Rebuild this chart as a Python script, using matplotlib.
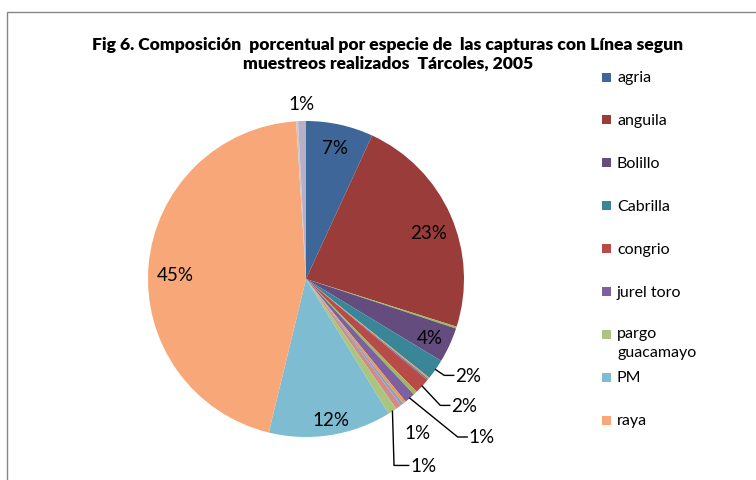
import numpy as np
import matplotlib
matplotlib.use("Agg")
import matplotlib.pyplot as plt
from matplotlib.patches import Rectangle

plt.rcParams['font.family'] = ['Lato', 'DejaVu Sans']

# ---- data (clockwise from 12 o'clock) ----
categories = ["agria", "anguila", "", "Bolillo", "Cabrilla", "", "", "congrio", "",
              "jurel toro", "", "", "", "pargo guacamayo", "PM", "raya", "", ""]
values = [6.9, 23.1, 0.2, 3.6, 2.1, 0.15, 0.15, 1.6, 0.4,
          1.1, 0.3, 0.3, 0.6, 0.9, 12.6, 45.4, 0.2, 0.8]
colors = ["#3E6699", "#9A3C3A", "#9BBB59", "#644C7E", "#398699", "#F79646", "#4F81BD",
          "#B84B48", "#9BBB59", "#7D60A0", "#F79646", "#7EA4D0", "#D28A88", "#ACC57E",
          "#7DBCD1", "#F8A878", "#C8C8C8", "#B9AEC8"]
pct_labels = ["7%", "23%", "", "4%", "2%", "", "", "2%", "", "1%", "", "", "1%", "1%",
              "12%", "45%", "", "1%"]
legend_names = ["agria", "anguila", "Bolillo", "Cabrilla", "congrio", "jurel toro",
                "pargo\nguacamayo", "PM", "raya"]
legend_colors = ["#3E6699", "#9A3C3A", "#644C7E", "#398699", "#B84B48", "#7D60A0",
                 "#ACC57E", "#7DBCD1", "#F8A878"]

W, H = 756, 481
fig = plt.figure(figsize=(W / 100, H / 100), dpi=100)

# chart frame
fig.patches.append(Rectangle((7 / W, -0.1), 1.2, 1 - 13 / H + 0.1, transform=fig.transFigure,
                             fill=False, edgecolor="#868686", linewidth=1.0))

# pie axes
cx, cy, R = 306, 280, 158
ax = fig.add_axes([(cx - R) / W, (H - cy - R) / H, 2 * R / W, 2 * R / H])
ax.axis("off")

wedges, _ = ax.pie(values, colors=colors, startangle=90, counterclock=False,
                   radius=1.0, wedgeprops=dict(linewidth=0))
ax.set_xlim(-1, 1)
ax.set_ylim(-1, 1)
ax.set_aspect("equal")

fs = 13.5
# inside / plain labels: (index, radius factor, angle shift deg)
plain = {0: (0.85, 0), 1: (0.83, -3), 3: (0.87, -0.6), 14: (0.905, 1.1), 15: (0.83, 3),
         17: (1.11, 0), 12: (1.20, 0)}
for i, (rf, da) in plain.items():
    w = wedges[i]
    ang = np.deg2rad((w.theta1 + w.theta2) / 2 + da)
    ax.text(rf * np.cos(ang), rf * np.sin(ang), pct_labels[i], ha="center", va="center",
            fontsize=fs, color="#000000")

# leader labels: index -> (text left x, text y) in pie units
leaders = {4: (0.945, -0.61), 7: (0.92, -0.80), 9: (1.03, -1.00), 13: (0.66, -1.18)}
for i, (tx, ty) in leaders.items():
    w = wedges[i]
    ang = np.deg2rad((w.theta1 + w.theta2) / 2)
    ex, ey = np.cos(ang) * 1.0, np.sin(ang) * 1.0
    if i == 13:
        pts_x = [ex, ex + 0.01, tx - 0.01]
        pts_y = [ey, ty, ty]
    else:
        pts_x = [ex, tx - 0.07, tx - 0.01]
        pts_y = [ey, ty, ty]
    ax.plot(pts_x, pts_y, color="black", linewidth=1.0, clip_on=False)
    ax.text(tx, ty, pct_labels[i], ha="left", va="center", fontsize=fs, color="black")

# title
fig.text(388 / W, 1 - 45 / H,
         "Fig 6. Composición  porcentual por especie de  las capturas con Línea segun",
         ha="center", va="center", fontsize=12.6, fontweight="heavy")
fig.text(388 / W, 1 - 64 / H, "muestreos realizados  Tárcoles, 2005",
         ha="center", va="center", fontsize=12.6, fontweight="heavy")

# legend (manual)
y0, dy = 78, 42.9
for k, (name, col) in enumerate(zip(legend_names, legend_colors)):
    y = y0 + k * dy
    fig.patches.append(Rectangle((602 / W, 1 - (y + 4.5) / H), 9 / W, 9 / H,
                                 transform=fig.transFigure, facecolor=col, edgecolor="none"))
    if "\n" in name:
        fig.text(617 / W, 1 - (y - 8) / H, name, ha="left", va="top",
                 fontsize=11.5, linespacing=1.4)
    else:
        fig.text(617 / W, 1 - y / H, name, ha="left", va="center", fontsize=11.5)

fig.savefig("out.png", dpi=100, facecolor="white")
